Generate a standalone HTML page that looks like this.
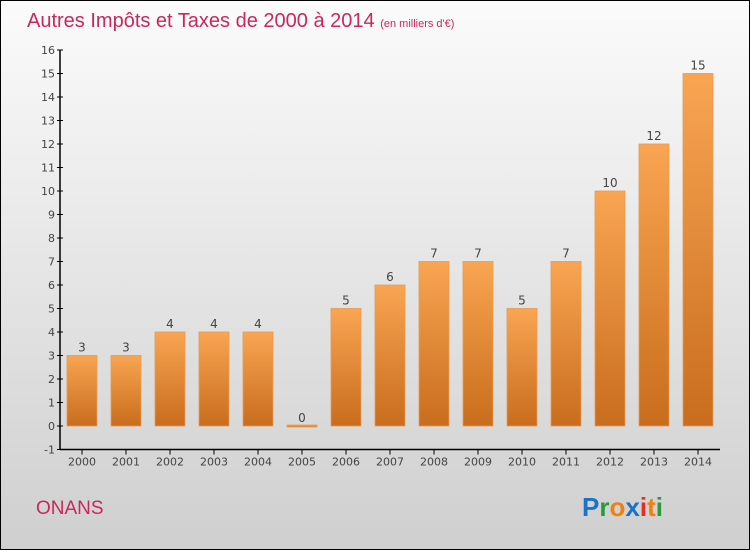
<!DOCTYPE html>
<html><head><meta charset="utf-8"><style>
body{margin:0}
svg text{font-family:"DejaVu Sans","Liberation Sans",sans-serif}
</style></head><body>
<svg width="750" height="550" xmlns="http://www.w3.org/2000/svg">
<defs>
<linearGradient id="bg" x1="0" y1="0" x2="0" y2="1"><stop offset="0" stop-color="#fbfbfb"/><stop offset="1" stop-color="#cfcfcf"/></linearGradient>
<linearGradient id="bar" x1="0" y1="0" x2="0" y2="1"><stop offset="0" stop-color="#f9a552"/><stop offset="1" stop-color="#c86d1d"/></linearGradient>
</defs>
<rect x="0.5" y="0.5" width="749" height="549" fill="url(#bg)" stroke="#000"/>
<text x="27" y="27" font-size="20" fill="#c8285a" style="font-family:'Liberation Sans',sans-serif">Autres Impôts et Taxes de 2000 à 2014 <tspan font-size="11">(en milliers d'€)</tspan></text>
<g id="axes"></g>
<g id="bars"></g>
<text x="36" y="514" font-size="19" fill="#c8285a" style="font-family:'Liberation Sans',sans-serif">ONANS</text>
<text x="582" y="516" font-size="26" style="font-family:'Liberation Sans',sans-serif" font-weight="bold"><tspan fill="#1a73c8">P</tspan><tspan fill="#2a9a3a">r</tspan><tspan fill="#f08010">o</tspan><tspan fill="#1a73c8">x</tspan><tspan fill="#e03020">i</tspan><tspan fill="#f08010">t</tspan><tspan fill="#2a9a3a">i</tspan></text>
</svg>
<script>
const categories=["2000","2001","2002","2003","2004","2005","2006","2007","2008","2009","2010","2011","2012","2013","2014"];
const values=[3,3,4,4,4,0,5,6,7,7,5,7,10,12,15];
const yTicks=[-1,0,1,2,3,4,5,6,7,8,9,10,11,12,13,14,15,16];
const NS="http://www.w3.org/2000/svg";
const y=v=>426-(v)*23.5;
const x=i=>82+i*44;
function mk(t,a,p){const e=document.createElementNS(NS,t);for(const k in a)e.setAttribute(k,a[k]);p.appendChild(e);return e;}
const ax=document.getElementById('axes'),bg=document.getElementById('bars');
let l=mk('line',{x1:60,y1:y(16),x2:60,y2:y(-1),stroke:'#000','stroke-width':1.5},ax);


l=mk('line',{x1:60,y1:y(-1),x2:720,y2:y(-1),stroke:'#000','stroke-width':1.5},ax);


yTicks.forEach(t=>{
 mk('line',{x1:57,y1:y(t),x2:63,y2:y(t),stroke:'#000'},ax);
 const tx=mk('text',{x:55,y:y(t)+4,'font-size':11,fill:'#444','text-anchor':'end'},ax);tx.textContent=t;
 
 
});
categories.forEach((c,i)=>{
 mk('line',{x1:x(i),y1:y(-1),x2:x(i),y2:y(-1)+5,stroke:'#000'},ax);
 const tx=mk('text',{x:x(i),y:y(-1)+16,'font-size':11,fill:'#444','text-anchor':'middle'},ax);tx.textContent=c;
 
 
 const v=values[i];const top=y(v),h=Math.max(y(0)-top,2);
 const r=mk('rect',{x:x(i)-15,y:Math.min(top,y(0)-1),width:30,height:h,fill:'url(#bar)',stroke:'#e89a55','stroke-width':0.8},bg);
 
 
 const lb=mk('text',{x:x(i),y:top-4,'font-size':12,fill:'#444','text-anchor':'middle'},bg);lb.textContent=v;
 
 
});
</script>
</body></html>
